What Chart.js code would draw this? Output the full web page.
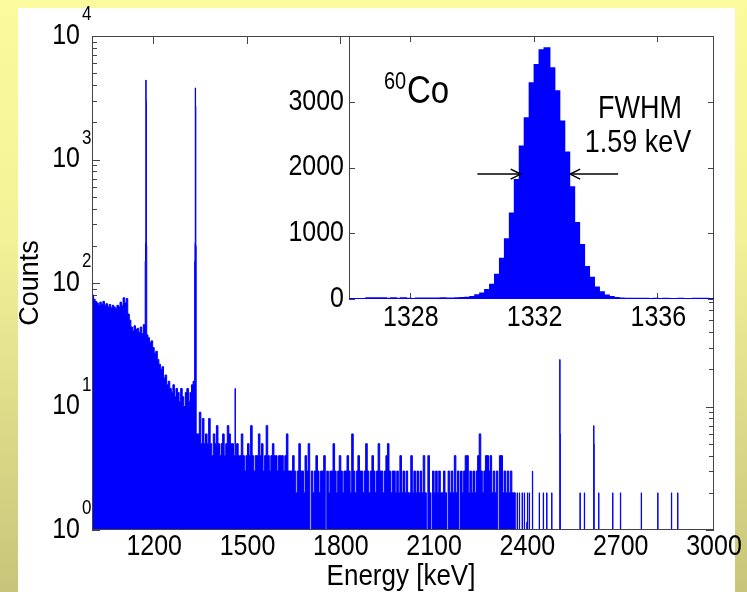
<!DOCTYPE html>
<html>
<head>
<meta charset="utf-8">
<title>60Co spectrum</title>
<script src="https://cdn.jsdelivr.net/npm/chart.js@4.4.1/dist/chart.umd.min.js"></script>
<style>
  html, body { margin: 0; padding: 0; }
  body {
    width: 747px; height: 592px; position: relative; overflow: hidden;
    background: linear-gradient(to bottom, #fbfb9d 0%, #f3f298 40%, #c8c57a 100%);
  }
  #panel { position: absolute; left: 18px; top: 8px; width: 717px; height: 584px; background: #fff; }
  #mainChart { position: absolute; left: 0; top: 0; }
  #insetChart { position: absolute; left: 278px; top: 30px; }
</style>
</head>
<body>
<div id="panel"></div>
<canvas id="mainChart" width="747" height="592"></canvas>
<canvas id="insetChart" width="438" height="306"></canvas>
<script>
// main spectrum, counts per bin on a log axis
const energyMin = 1000;
const energyMax = 3000;
const binWidth = 5; // keV

const lowStart = 1000; // 1000 - 1340 keV
const lowCounts = [
  80, 74, 71, 69, 66, 70, 67, 71, 66, 68, 64, 67, 63, 66, 64, 62, 66, 64, 70, 66,
  76, 69, 75, 56, 50, 44, 41, 45, 42, 43, 40, 44, 39, 46, 45, 38, 36, 33, 34, 30,
  27, 28, 24, 22, 20, 21, 17, 18, 15, 16, 14, 13, 15, 12, 14, 13, 11, 14, 12, 10,
  13, 14, 11, 13, 15, 16, 14, 6
];

const midStart = 1340; // 1340 - 2360 keV
const midCounts = [
  6, 9, 5, 8, 5, 6, 5, 8, 5, 4, 6, 5, 7, 5, 4, 5, 6, 4, 5, 7,
  6, 5, 5, 4, 4, 5, 4, 4, 6, 4, 3, 4, 5, 4, 7, 4, 3, 4, 4, 6,
  4, 5, 3, 4, 7, 4, 3, 4, 5, 4, 4, 3, 4, 4, 4, 3, 4, 6, 3, 3,
  3, 4, 3, 2, 3, 5, 3, 3, 2, 4, 3, 5, 1, 3, 2, 3, 4, 3, 2, 3,
  3, 4, 1, 3, 2, 3, 3, 5, 3, 2, 3, 4, 3, 2, 3, 3, 4, 3, 2, 6,
  3, 2, 3, 4, 3, 3, 2, 3, 5, 3, 2, 3, 4, 3, 2, 3, 5, 3, 3, 2,
  3, 4, 5, 3, 2, 3, 3, 2, 3, 2, 4, 2, 3, 2, 3, 2, 2, 4, 2, 3,
  2, 3, 2, 3, 2, 4, 2, 1, 4, 2, 1, 3, 2, 3, 2, 3, 2, 2, 3, 2,
  1, 3, 2, 3, 2, 4, 2, 3, 1, 3, 2, 3, 4, 4, 2, 3, 2, 3, 2, 3,
  4, 6, 3, 2, 3, 4, 4, 3, 4, 2, 3, 2, 3, 1, 4, 4, 2, 3, 2, 3,
  2, 3, 2, 2
];

const tailStart = 2360; // only isolated counts above this
const lineEnergies = [2360, 2367, 2374, 2383, 2390, 2400, 2406, 2416, 2438, 2451, 2462,
  2478, 2569, 2583, 2629, 2674, 2699, 2766, 2819, 2863, 2883];
const lineCounts = [2, 2, 2, 2, 2, 2, 2, 3, 2, 2, 2, 2, 2, 2, 2, 2, 2, 2, 2, 2, 2];

// gamma lines (1 keV bins)
const peakEnergies = [1171, 1172, 1173, 1174, 1175, 1330, 1331, 1332, 1333, 1334, 1460, 2504, 2505, 2613, 2614];
const peakCounts = [150, 210, 4400, 3000, 200, 150, 210, 3800, 2700, 200, 14, 24, 6, 7, 5];

const xTickValues = [1200, 1500, 1800, 2100, 2400, 2700, 3000];
const yDecades = [0, 1, 2, 3, 4];

// inset: the 1332 keV line
const insetStart = 1325.92;
const insetBin = 0.16;
const insetCounts = [
  0, 0, 0, 0,
  12, 12, 10, 12, 3, 12, 4, 10, 2, 0,
  6, 8, 7, 9, 8, 10, 9, 8,
  10, 14, 20, 30, 56, 85, 136, 215,
  370, 613, 910, 1300, 1810, 2320, 2750, 3280, 3560,
  3785, 3815,
  3510, 3160, 2700, 2230, 1700, 1155, 820, 485, 325, 176, 103, 55, 30, 14, 8, 5,
  4, 3, 2, 3, 1, 2, 0, 2, 1, 0, 2, 1, 0, 3, 4, 2, 1, 0
];
const insetXTicks = [1328, 1332, 1336];
const insetYTicks = [0, 1000, 2000, 3000];
const halfMax = 1900;
const fwhmLow = 1331.55;
const fwhmHigh = 1333.15;

const blue = '#0000ff';
const axisColor = '#444';
const fontName = '"Liberation Sans", Arial, sans-serif';
const textStretch = 1.15; // the original figure is a bit taller than wide

function overlay(bins, e0, e1, c) {
  const out = [];
  bins.forEach(b => {
    if (b.x1 <= e0 || b.x0 >= e1) { out.push(b); return; }
    if (b.x0 < e0) out.push({x0: b.x0, x1: e0, y: b.y});
    if (b.x1 > e1) out.push({x0: e1, x1: b.x1, y: b.y});
  });
  out.push({x0: e0, x1: e1, y: c});
  return out.sort((a, b) => a.x0 - b.x0);
}

// chart.js 'before' stepping holds each point's value until the next point
function toSteps(bins) {
  const pts = bins.map(b => ({x: b.x0, y: b.y}));
  const last = bins[bins.length - 1];
  pts.push({x: last.x1, y: last.y});
  return pts;
}

function seg(ctx, x0, y0, x1, y1) {
  ctx.beginPath();
  ctx.moveTo(x0, y0);
  ctx.lineTo(x1, y1);
  ctx.stroke();
}

function text(ctx, str, x, y) {
  ctx.save();
  ctx.translate(x, y);
  ctx.scale(1, textStretch);
  ctx.fillText(str, 0, 0);
  ctx.restore();
}

let mainBins = [];
lowCounts.forEach((c, i) => mainBins.push({x0: lowStart + i * binWidth, x1: lowStart + (i + 1) * binWidth, y: c}));
midCounts.forEach((c, i) => mainBins.push({x0: midStart + i * binWidth, x1: midStart + (i + 1) * binWidth, y: c}));
mainBins.push({x0: tailStart, x1: energyMax, y: 1});
lineEnergies.forEach((e, i) => { mainBins = overlay(mainBins, e, e + 1, lineCounts[i]); });
peakEnergies.forEach((e, i) => { mainBins = overlay(mainBins, e, e + 1, peakCounts[i]); });

const insetBins = insetCounts.map((c, i) => ({x0: insetStart + i * insetBin, x1: insetStart + (i + 1) * insetBin, y: c}));

const mainAxes = {
  id: 'mainAxes',
  beforeDatasetsDraw(chart) {
    const {ctx, chartArea: a, scales: {x, y}} = chart;
    ctx.save();
    ctx.strokeStyle = axisColor;
    ctx.lineWidth = 1;
    xTickValues.forEach(v => {
      const px = Math.round(x.getPixelForValue(v)) - 0.5;
      seg(ctx, px, a.bottom, px, a.bottom - 8);
      seg(ctx, px, a.top, px, a.top + 8);
    });
    yDecades.forEach(p => {
      for (let m = 1; m <= 9; m++) {
        const v = m * Math.pow(10, p);
        if (v > 10000) break;
        const len = m === 1 ? 8 : 5;
        const py = Math.round(y.getPixelForValue(v)) + 0.5;
        seg(ctx, a.left, py, a.left + len, py);
        seg(ctx, a.right, py, a.right - len, py);
      }
    });
    ctx.restore();
  },
  afterDatasetsDraw(chart) {
    const {ctx, chartArea: a} = chart;
    ctx.save();
    ctx.strokeStyle = axisColor;
    ctx.lineWidth = 1;
    ctx.strokeRect(a.left + 0.5, a.top + 0.5, a.right - a.left - 1, a.bottom - a.top - 1);
    ctx.restore();
  },
  afterDraw(chart) {
    const {ctx, chartArea: a, scales: {x, y}} = chart;
    ctx.save();
    ctx.fillStyle = '#000';
    ctx.font = '25px ' + fontName;
    ctx.textAlign = 'center';
    ctx.textBaseline = 'middle';
    xTickValues.forEach(v => text(ctx, String(v), x.getPixelForValue(v), a.bottom + 17));
    yDecades.forEach(p => {
      const py = y.getPixelForValue(Math.pow(10, p));
      ctx.font = '25px ' + fontName;
      ctx.textAlign = 'right';
      text(ctx, '10', a.left - 12, py);
      ctx.font = '17px ' + fontName;
      ctx.textAlign = 'left';
      text(ctx, String(p), a.left - 10, py - 21);
    });
    ctx.font = '26px ' + fontName;
    ctx.textAlign = 'center';
    text(ctx, 'Energy [keV]', (a.left + a.right) / 2 - 2, a.bottom + 47);
    ctx.font = '27px ' + fontName;
    ctx.translate(31, (a.top + a.bottom) / 2);
    ctx.rotate(-Math.PI / 2);
    ctx.fillText('Counts', 0, 0);
    ctx.restore();
  }
};

function arrow(ctx, xFrom, xTo, yy) {
  seg(ctx, xFrom, yy, xTo, yy);
  const d = xTo > xFrom ? -1 : 1;
  ctx.beginPath();
  ctx.moveTo(xTo + d * 10, yy - 5);
  ctx.lineTo(xTo, yy);
  ctx.lineTo(xTo + d * 10, yy + 5);
  ctx.stroke();
}

const insetAxes = {
  id: 'insetAxes',
  beforeDatasetsDraw(chart) {
    const {ctx, chartArea: a, scales: {x, y}} = chart;
    ctx.save();
    ctx.fillStyle = '#fff';
    ctx.fillRect(a.left, a.top, a.right - a.left, a.bottom - a.top);
    ctx.strokeStyle = axisColor;
    ctx.lineWidth = 1;
    insetXTicks.forEach(v => {
      const px = Math.round(x.getPixelForValue(v)) - 0.5;
      seg(ctx, px, a.bottom, px, a.bottom - 6);
      seg(ctx, px, a.top, px, a.top + 6);
    });
    insetYTicks.forEach(v => {
      const py = Math.round(y.getPixelForValue(v)) + 0.5;
      seg(ctx, a.left, py, a.left + 6, py);
      seg(ctx, a.right, py, a.right - 6, py);
    });
    ctx.strokeRect(a.left + 0.5, a.top + 0.5, a.right - a.left - 1, a.bottom - a.top - 1);
    ctx.restore();
  },
  afterDraw(chart) {
    const {ctx, chartArea: a, scales: {x, y}} = chart;
    ctx.save();
    ctx.fillStyle = '#000';
    ctx.font = '25px ' + fontName;
    ctx.textBaseline = 'middle';
    ctx.textAlign = 'right';
    insetYTicks.forEach(v => text(ctx, String(v), a.left - 5, y.getPixelForValue(v)));
    ctx.textAlign = 'center';
    insetXTicks.forEach(v => text(ctx, String(v), x.getPixelForValue(v), a.bottom + 19));

    ctx.textBaseline = 'alphabetic';
    ctx.textAlign = 'left';
    ctx.font = '20px ' + fontName;
    text(ctx, '60', a.left + 35, a.top + 53);
    ctx.font = '33px ' + fontName;
    text(ctx, 'Co', a.left + 58, a.top + 67);
    ctx.font = '27px ' + fontName;
    ctx.textAlign = 'center';
    text(ctx, 'FWHM', a.left + 291, a.top + 82);
    text(ctx, '1.59 keV', a.left + 289, a.top + 116);

    ctx.strokeStyle = '#000';
    ctx.lineWidth = 1.5;
    const yy = y.getPixelForValue(halfMax);
    arrow(ctx, x.getPixelForValue(fwhmLow - 1.4), x.getPixelForValue(fwhmLow), yy);
    arrow(ctx, x.getPixelForValue(fwhmHigh + 1.55), x.getPixelForValue(fwhmHigh), yy);
    ctx.restore();
  }
};

new Chart(document.getElementById('mainChart'), {
  type: 'line',
  data: {
    datasets: [{
      data: toSteps(mainBins),
      stepped: 'before',
      fill: 'start',
      borderColor: blue,
      backgroundColor: blue,
      borderWidth: 1,
      pointRadius: 0
    }]
  },
  options: {
    responsive: false,
    animation: false,
    events: [],
    layout: { padding: { left: 92, top: 36, right: 33, bottom: 62 } },
    plugins: { legend: { display: false }, tooltip: { enabled: false } },
    scales: {
      x: { type: 'linear', min: energyMin, max: energyMax, display: false },
      y: { type: 'logarithmic', min: 1, max: 10000, display: false }
    }
  },
  plugins: [mainAxes]
});

new Chart(document.getElementById('insetChart'), {
  type: 'line',
  data: {
    datasets: [{
      data: toSteps(insetBins),
      stepped: 'before',
      fill: 'origin',
      borderColor: blue,
      backgroundColor: blue,
      borderWidth: 2,
      pointRadius: 0
    }]
  },
  options: {
    responsive: false,
    animation: false,
    events: [],
    layout: { padding: { left: 71, top: 6, right: 2, bottom: 37 } },
    plugins: { legend: { display: false }, tooltip: { enabled: false } },
    scales: {
      x: { type: 'linear', min: 1326, max: 1337.8, display: false },
      y: { type: 'linear', min: 0, max: 4000, display: false }
    }
  },
  plugins: [insetAxes]
});
</script>
</body>
</html>
